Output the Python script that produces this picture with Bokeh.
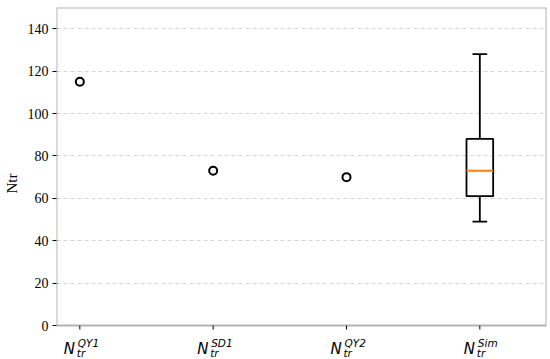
import math
from bokeh.plotting import figure
from bokeh.models import FixedTicker, BoxAnnotation, ColumnDataSource
from bokeh.core.properties import value
from bokeh.transform import dodge
from bokeh.embed import file_html
from bokeh.resources import INLINE

# ---- data ----
positions = [1, 2, 3, 4]
sup_labels = ["QY1", "SD1", "QY2", "Sim"]
single_x = [1, 2, 3]
single_y = [115, 73, 70]
box_x = [4]
box_low = [49]
box_q1 = [61]
box_median = [73]
box_q3 = [88]
box_high = [128]
y_ticks = [0, 20, 40, 60, 80, 100, 120, 140]

X0, X1 = 0.825, 4.5
Y_TOP = 150
Y_BOTTOM = -16.0   # room under the axis for the math-style tick labels

p = figure(width=550, height=359, output_backend="svg", toolbar_location=None,
           x_range=(X0, X1), y_range=(Y_BOTTOM, Y_TOP),
           min_border_left=56, min_border_right=4, min_border_top=7, min_border_bottom=0)
p.background_fill_color = "white"
p.border_fill_color = "white"
p.outline_line_color = None

# grid
p.xgrid.visible = False
p.ygrid.ticker = FixedTicker(ticks=y_ticks[1:])
p.ygrid.grid_line_color = "#cccccc"
p.ygrid.grid_line_dash = "4 3"
p.ygrid.grid_line_width = 0.8

# y axis
p.yaxis.ticker = FixedTicker(ticks=y_ticks)
p.yaxis.axis_label = "Ntr"
p.yaxis.axis_label_text_font = "Liberation Serif"
p.yaxis.axis_label_text_font_style = "normal"
p.yaxis.axis_label_text_font_size = "15px"
p.yaxis.axis_label_text_color = "black"
p.yaxis.axis_label_standoff = 5
p.yaxis.major_label_text_font = "Liberation Serif"
p.yaxis.major_label_text_font_size = "14px"
p.yaxis.major_label_text_color = "black"
p.yaxis.major_label_standoff = 4
p.yaxis.minor_tick_line_color = None
p.yaxis.axis_line_color = None
p.yaxis.major_tick_line_color = "black"
p.yaxis.major_tick_in = 0
p.yaxis.major_tick_out = 4

p.xaxis.visible = False

# plot-area frame (0..150)
p.add_layout(BoxAnnotation(left=X0, right=X1, bottom=0, top=Y_TOP,
                           fill_alpha=0, line_color="black", line_width=2))

# x tick marks below y=0
p.ray(x=positions, y=[0] * len(positions), length=4, length_units="screen",
      angle=-math.pi / 2, line_color="black", line_width=1)

# single-value points
p.scatter(single_x, single_y, size=8, marker="circle", fill_color=None,
          line_color="black", line_width=2)

# box plot
src = ColumnDataSource(dict(x=box_x, low=box_low, q1=box_q1, med=box_median,
                            q3=box_q3, high=box_high))
p.vbar(x="x", bottom="q1", top="q3", width=0.2, source=src, fill_color=None,
       line_color="black", line_width=1.8)
p.segment(x0="x", y0="q3", x1="x", y1="high", source=src, line_color="black", line_width=1.8)
p.segment(x0="x", y0="low", x1="x", y1="q1", source=src, line_color="black", line_width=1.8)
p.segment(x0=dodge("x", -0.055), y0="high", x1=dodge("x", 0.055), y1="high", source=src,
          line_color="black", line_width=1.8)
p.segment(x0=dodge("x", -0.055), y0="low", x1=dodge("x", 0.055), y1="low", source=src,
          line_color="black", line_width=1.8)
p.segment(x0=dodge("x", -0.1), y0="med", x1=dodge("x", 0.1), y1="med", source=src,
          line_color="#ff7f0e", line_width=2)

# math-style tick labels N_tr^{...}
zeros = [0] * len(positions)
p.text(x=positions, y=zeros, text=["N"] * len(positions), x_offset=-16, y_offset=23,
       text_font=value("DejaVu Sans"), text_font_style="italic", text_font_size="15px",
       text_color="black", text_align="left", text_baseline="alphabetic")
p.text(x=positions, y=zeros, text=["tr"] * len(positions), x_offset=-3, y_offset=27,
       text_font=value("DejaVu Sans"), text_font_style="italic", text_font_size="10.5px",
       text_color="black", text_align="left", text_baseline="alphabetic")
p.text(x=positions, y=zeros, text=sup_labels, x_offset=-2, y_offset=17,
       text_font=value("DejaVu Sans"), text_font_style="italic", text_font_size="10.5px",
       text_color="black", text_align="left", text_baseline="alphabetic")

open("out.html", "w").write(file_html(p, INLINE))
